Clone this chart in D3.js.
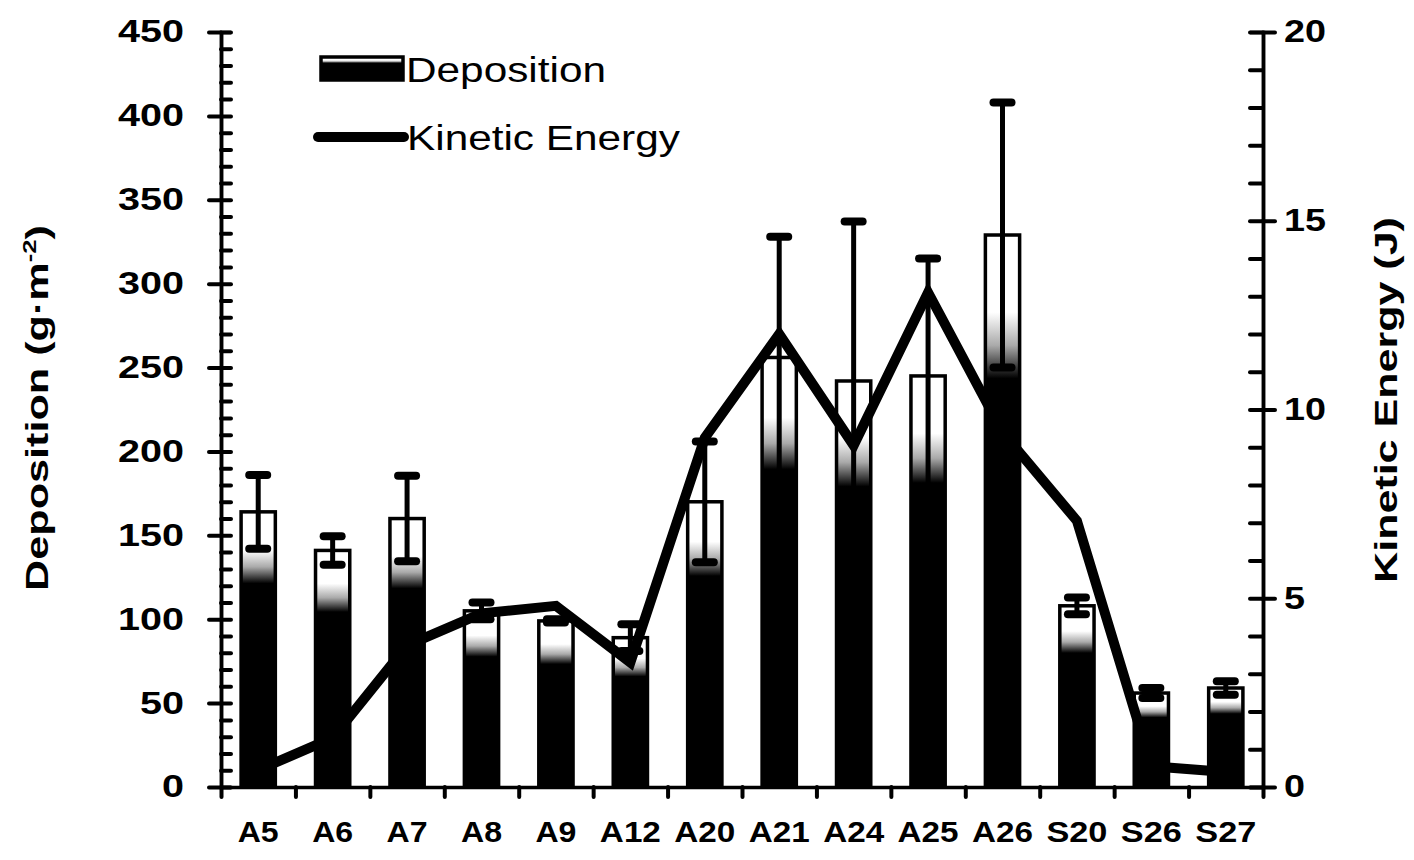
<!DOCTYPE html>
<html>
<head>
<meta charset="utf-8">
<script src="https://cdn.jsdelivr.net/npm/d3@7"></script>
<style>
  body { margin: 0; background: #fff; }
  svg { display: block; }
</style>
</head>
<body>
<svg id="chart" width="1414" height="860"></svg>
<script>
// data
const categories = ["A5", "A6", "A7", "A8", "A9", "A12", "A20", "A21", "A24", "A25", "A26", "S20", "S26", "S27"];
const deposition = [164, 141, 160, 105, 99, 89, 170, 256, 242, 245, 329, 108, 56, 59];
const depositionErr = [22, 8.5, 25.5, 5, 1, 8, 36, 72, 95, 70, 79, 5, 3, 4];
const kineticEnergy = [0.45, 1.3, 3.75, 4.6, 4.8, 3.3, 9.25, 12.0, 9.05, 13.1, 9.4, 7.05, 0.55, 0.4];
const leftTicks = [0, 50, 100, 150, 200, 250, 300, 350, 400, 450];
const rightTicks = [0, 5, 10, 15, 20];

const svg = d3.select("#chart");
const font = "'Liberation Sans', Arial, sans-serif";

// plot area
const area = { left: 221, right: 1263, top: 32, bottom: 787 };

const scX = d3.scaleBand()
    .domain(categories)
    .range([area.left, area.right])
    .paddingInner(0.54)
    .paddingOuter(0.27);

const scY = d3.scaleLinear().domain([0, 450]).range([area.bottom, area.top]);
const scY2 = d3.scaleLinear().domain([0, 20]).range([area.bottom, area.top]);

// bar gradient: white near the top, black below
const defs = svg.append("defs");
const grad = defs.append("linearGradient")
    .attr("id", "barGrad")
    .attr("x1", 0).attr("y1", 0).attr("x2", 0).attr("y2", 1);
[[0, "#fff"], [0.14, "#fff"], [0.2, "#aaa"], [0.26, "#000"], [1, "#000"]].forEach(s => {
    grad.append("stop").attr("offset", s[0]).attr("stop-color", s[1]);
});

// bars
svg.append("g").selectAll("rect")
    .data(categories)
    .enter()
    .append("rect")
    .attr("x", d => scX(d))
    .attr("y", (d, i) => scY(deposition[i]))
    .attr("width", scX.bandwidth())
    .attr("height", (d, i) => scY(0) - scY(deposition[i]))
    .attr("fill", "url(#barGrad)")
    .attr("stroke", "#000")
    .attr("stroke-width", 3.5);

// error bars
const errG = svg.append("g");
categories.forEach((c, i) => {
    const cx = scX(c) + scX.bandwidth() / 2;
    const hi = scY(deposition[i] + depositionErr[i]);
    const lo = scY(deposition[i] - depositionErr[i]);
    errG.append("line")
        .attr("x1", cx).attr("x2", cx).attr("y1", hi).attr("y2", lo)
        .attr("stroke", "#000").attr("stroke-width", 5);
    [hi, lo].forEach(y => {
        errG.append("line")
            .attr("x1", cx - 9).attr("x2", cx + 9).attr("y1", y).attr("y2", y)
            .attr("stroke", "#000").attr("stroke-width", 8)
            .attr("stroke-linecap", "round");
    });
});

// kinetic energy line
const line = d3.line()
    .x((d, i) => scX(categories[i]) + scX.bandwidth() / 2)
    .y(d => scY2(d));
svg.append("path")
    .attr("d", line(kineticEnergy))
    .attr("fill", "none")
    .attr("stroke", "#000")
    .attr("stroke-width", 10)
    .attr("stroke-linejoin", "miter");

// axes
function styleAxis(g) {
    g.selectAll("path.domain").attr("stroke-width", 3.5);
    g.selectAll(".tick line").attr("stroke-width", 4).attr("stroke-linecap", "round");
    g.selectAll("text")
        .attr("font-family", font)
        .attr("font-weight", "bold")
        .attr("font-size", 31)
        .attr("fill", "#000");
}

// left axis: minor ticks inside, majors crossing
svg.append("g")
    .attr("transform", `translate(${area.left},0)`)
    .call(d3.axisRight(scY).tickValues(d3.range(0, 451, 10)).tickSize(10).tickFormat(""))
    .call(styleAxis);
svg.append("g")
    .attr("transform", `translate(${area.left},0)`)
    .call(d3.axisLeft(scY).tickValues(leftTicks).tickSize(12).tickPadding(25).tickSizeOuter(0))
    .call(styleAxis)
    .selectAll("text")
    .attr("textLength", d => String(d).length * 22)
    .attr("lengthAdjust", "spacingAndGlyphs");

// right axis
svg.append("g")
    .attr("transform", `translate(${area.right},0)`)
    .call(d3.axisLeft(scY2).tickValues(d3.range(0, 21, 1)).tickSize(13).tickFormat(""))
    .call(styleAxis);
svg.append("g")
    .attr("transform", `translate(${area.right},0)`)
    .call(d3.axisRight(scY2).tickValues(rightTicks).tickSize(12).tickPadding(9).tickSizeOuter(0))
    .call(styleAxis)
    .selectAll("text")
    .attr("textLength", d => String(d).length * 21)
    .attr("lengthAdjust", "spacingAndGlyphs");

// bottom axis: ticks at category boundaries
const boundaries = d3.range(categories.length + 1).map(i => area.left + i * scX.step());
const scXb = d3.scaleLinear().domain([area.left, area.right]).range([area.left, area.right]);
svg.append("g")
    .attr("transform", `translate(0,${area.bottom})`)
    .call(d3.axisBottom(scXb).tickValues(boundaries).tickSize(10).tickSizeOuter(0).tickFormat(""))
    .call(styleAxis);
const xLab = svg.append("g")
    .attr("transform", `translate(0,${area.bottom})`)
    .call(d3.axisBottom(scX).tickSize(0).tickPadding(34))
    .call(styleAxis);
xLab.select("path.domain").remove();
xLab.selectAll("text")
    .attr("font-size", 30)
    .attr("textLength", d => d.length === 2 ? 41 : 61)
    .attr("lengthAdjust", "spacingAndGlyphs");

// stretch factor to bring a text element to a target length
function fitText(t, target) {
    const w = t.node().getComputedTextLength();
    return target / w;
}

// axis titles
const t1 = svg.append("text")
    .attr("font-family", font).attr("font-weight", "bold").attr("font-size", 32)
    .attr("text-anchor", "middle");
t1.append("tspan").text("Deposition (g·m");
t1.append("tspan").attr("font-size", 19).attr("dy", -12).text("-2");
t1.append("tspan").attr("dy", 12).text(")");
const s1 = fitText(t1, 366);
t1.attr("transform", `translate(48,408) rotate(-90) scale(${s1},1)`);

const t2 = svg.append("text")
    .attr("font-family", font).attr("font-weight", "bold").attr("font-size", 32)
    .attr("text-anchor", "middle")
    .text("Kinetic Energy (J)");
const s2 = fitText(t2, 366);
t2.attr("transform", `translate(1397,400) rotate(-90) scale(${s2},1)`);

// legend
const leg = svg.append("g");
leg.append("rect")
    .attr("x", 321).attr("y", 57).attr("width", 82).attr("height", 23)
    .attr("fill", "url(#barGrad)").attr("stroke", "#000").attr("stroke-width", 3.5);
const lt1 = leg.append("text")
    .attr("font-family", font).attr("font-size", 35)
    .text("Deposition");
lt1.attr("transform", `translate(406,82) scale(${fitText(lt1, 200)},1)`);

leg.append("line")
    .attr("x1", 318).attr("x2", 404).attr("y1", 137).attr("y2", 137)
    .attr("stroke", "#000").attr("stroke-width", 10).attr("stroke-linecap", "round");
const lt2 = leg.append("text")
    .attr("font-family", font).attr("font-size", 35)
    .text("Kinetic Energy");
lt2.attr("transform", `translate(407,150) scale(${fitText(lt2, 273)},1)`);
</script>
</body>
</html>
